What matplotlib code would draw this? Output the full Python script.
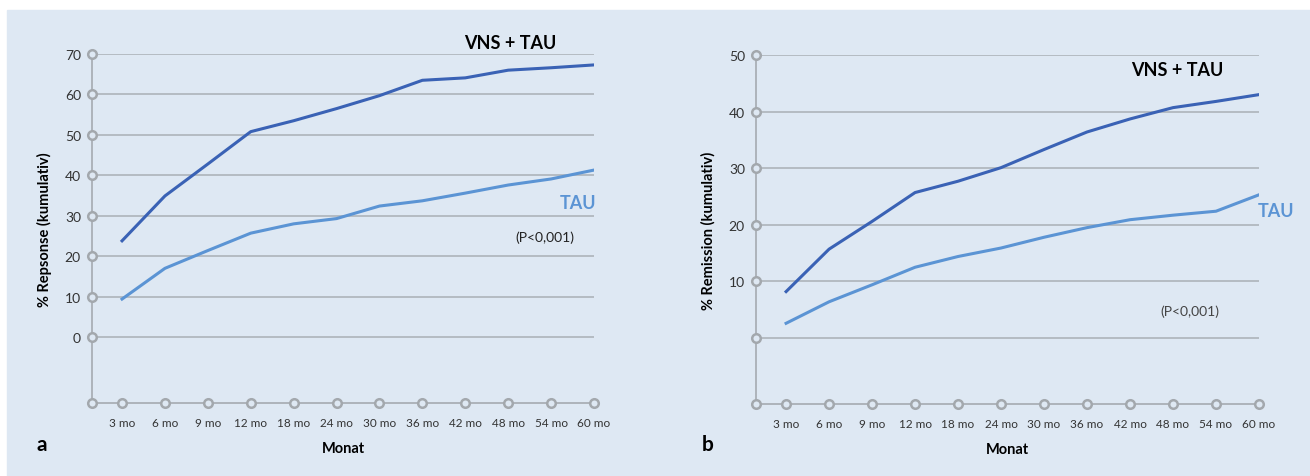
import numpy as np
import matplotlib.pyplot as plt
from matplotlib.patches import Rectangle

plt.rcParams['font.family'] = ['Lato', 'DejaVu Sans']

months = ["3 mo", "6 mo", "9 mo", "12 mo", "18 mo", "24 mo",
          "30 mo", "36 mo", "42 mo", "48 mo", "54 mo", "60 mo"]

# panel a: response (cumulative, %)
resp_vns = [23.8, 34.9, 42.8, 50.8, 53.5, 56.5, 59.7, 63.5, 64.1, 66.0, 66.6, 67.3]
resp_tau = [9.4, 17.0, 21.4, 25.7, 28.0, 29.3, 32.4, 33.7, 35.6, 37.6, 39.1, 41.3]

# panel b: remission (cumulative, %)
rem_vns = [8.2, 15.7, 20.6, 25.7, 27.7, 30.1, 33.3, 36.4, 38.7, 40.7, 41.8, 43.0]
rem_tau = [2.6, 6.4, 9.4, 12.5, 14.4, 15.9, 17.8, 19.5, 20.9, 21.7, 22.4, 25.3]

BG = "#dee8f3"
DARK = "#3a62b5"
LIGHT = "#5b94d4"
GRID = "#a9afb5"

fig = plt.figure(figsize=(13.1, 4.77), dpi=100, facecolor="white")
fig.patches.append(Rectangle((7 / 1310, 0), 1, 1 - 11 / 477,
                             transform=fig.transFigure, color=BG, zorder=-10))


def panel(rect, vns, tau, yticks, ymin, ylabel, labelled):
    ax = fig.add_axes(rect)
    ax.set_facecolor("none")
    x = np.arange(len(months))
    ax.set_xlim(-0.7, len(months) - 1)
    ax.set_ylim(ymin, yticks[-1])
    for s in ["top", "right"]:
        ax.spines[s].set_visible(False)
    for s in ["left", "bottom"]:
        ax.spines[s].set_color(GRID)
        ax.spines[s].set_linewidth(1.3)
    for t in yticks:
        ax.axhline(t, color=GRID, lw=1.1, zorder=1)
    ax.plot(x, vns, color=DARK, lw=2.2, zorder=3)
    ax.plot(x, tau, color=LIGHT, lw=2.2, zorder=3)
    # ring markers on the axes
    ring = dict(s=38, facecolor=BG, edgecolor="#a3a8ad", linewidths=1.8,
                clip_on=False, zorder=5)
    ax.scatter(x, np.full(len(x), ymin), **ring)
    ax.scatter(np.full(len(yticks) + 1, -0.7), [ymin] + list(yticks), **ring)
    ax.set_xticks(x)
    ax.set_xticklabels(months, fontsize=8.5, color="#333333")
    ax.set_yticks(yticks)
    ax.set_yticklabels([str(t) if t in labelled else "" for t in yticks],
                       fontsize=10, color="#333333")
    ax.tick_params(length=0)
    ax.tick_params(axis="x", pad=10)
    ax.tick_params(axis="y", pad=8)
    ax.set_xlabel("Monat", fontsize=10.5, fontweight="bold")
    ax.xaxis.set_label_coords(0.5, -0.108)
    ax.set_ylabel(ylabel, fontsize=10.5, fontweight="bold")
    ax.yaxis.set_label_coords(-0.08, 0.5)
    return ax


ax1 = panel([92 / 1310, 1 - 404 / 477, 502 / 1310, 349 / 477],
            resp_vns, resp_tau, [0, 10, 20, 30, 40, 50, 60, 70], -16.3,
            "% Repsonse (kumulativ)", [0, 10, 20, 30, 40, 50, 60, 70])
ax1.text(9.04, 72.8, "VNS + TAU", fontsize=13, fontweight="bold", ha="center", va="center")
ax1.text(10.63, 33.4, "TAU", fontsize=13, fontweight="bold", color=LIGHT, ha="center", va="center")
ax1.text(9.86, 24.75, "(P<0,001)", fontsize=10, ha="center", va="center", color="#222222")
fig.text(42 / 1310, 1 - 445 / 477, "a", fontsize=15, fontweight="bold", ha="center", va="center")

ax2 = panel([756 / 1310, 1 - 405 / 477, 503 / 1310, 349 / 477],
            rem_vns, rem_tau, [0, 10, 20, 30, 40, 50], -11.66,
            "% Remission (kumulativ)", [10, 20, 30, 40, 50])
ax2.text(9.1, 47.4, "VNS + TAU", fontsize=13, fontweight="bold", ha="center", va="center")
ax2.text(11.4, 22.6, "TAU", fontsize=13, fontweight="bold", color=LIGHT, ha="center", va="center")
ax2.text(9.39, 4.77, "(P<0,001)", fontsize=10, ha="center", va="center", color="#444444")
fig.text(708 / 1310, 1 - 445 / 477, "b", fontsize=15, fontweight="bold", ha="center", va="center")

fig.savefig("out.png", dpi=100, facecolor=fig.get_facecolor())
